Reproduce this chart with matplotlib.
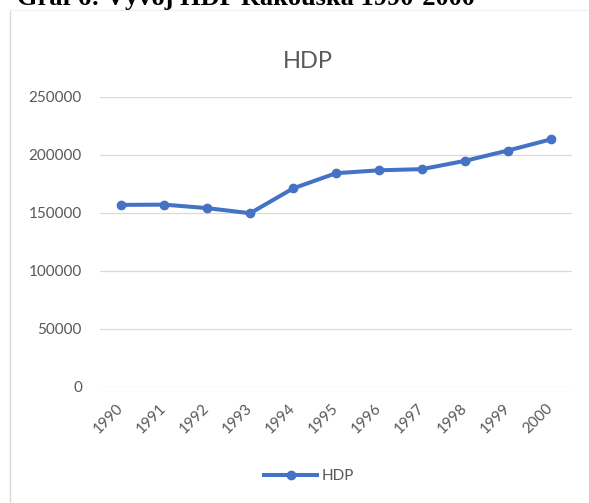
import matplotlib.pyplot as plt
from matplotlib.lines import Line2D

years = ["1990", "1991", "1992", "1993", "1994", "1995", "1996", "1997", "1998", "1999", "2000"]
hdp = [157000, 157200, 154200, 149800, 171200, 184300, 186800, 187800, 194900, 203800, 213400]
yticks = [0, 50000, 100000, 150000, 200000, 250000]

W, H = 589, 503
fig = plt.figure(figsize=(W / 100, H / 100), dpi=100)

# plot area in pixels: x 100..572, y 97..387
ax = fig.add_axes([100 / W, 1 - 387 / H, 472 / W, 290 / H])

gray = "#595959"
x = list(range(len(years)))
ax.plot(x, hdp, color="#4472C4", lw=2.9, marker="o", ms=6, solid_capstyle="round")

ax.set_xlim(-0.5, len(years) - 0.5)
ax.set_ylim(0, 250000)
ax.set_yticks(yticks)
ax.set_yticklabels([str(v) for v in yticks], fontsize=11, color=gray, family="Lato")
ax.set_xticks(x)
ax.set_xticklabels(years, fontsize=11, color=gray, family="Lato",
                   rotation=45, ha="right", va="center", rotation_mode="anchor")
ax.tick_params(axis="both", length=0)
ax.tick_params(axis="y", pad=13)
ax.tick_params(axis="x", pad=14)
ax.grid(axis="y", color="#D9D9D9", lw=0.9)
ax.set_axisbelow(True)
for s in ax.spines.values():
    s.set_visible(False)

# chart title
fig.text(308 / W, 1 - 61 / H, "HDP", ha="center", va="center",
         fontsize=17, color=gray, family="Lato")

# document caption, cut off at the top like in the source
fig.text(17 / W, 1 - 5 / H, "Graf 6: Vývoj HDP Rakouska 1990-2000", ha="left", va="baseline",
         fontsize=19, fontweight="bold", family="Liberation Serif", color="black")

# chart border (left edge visible)
fig.add_artist(Line2D([10 / W, 10 / W], [0, 1 - 10 / H], color="#D9D9D9", lw=1))
fig.add_artist(Line2D([10 / W, 1], [1 - 10 / H, 1 - 10 / H], color="#F0F0F0", lw=0.8))

leg = fig.legend(handles=[Line2D([], [], color="#4472C4", lw=2.9, marker="o", ms=6)],
                 labels=["HDP"], loc="center", bbox_to_anchor=(309 / W, 1 - 476 / H),
                 frameon=False, handlelength=3.5, handletextpad=0.3,
                 prop={"family": "Lato", "size": 11})
for t in leg.get_texts():
    t.set_color(gray)

fig.savefig("out.png", dpi=100)
